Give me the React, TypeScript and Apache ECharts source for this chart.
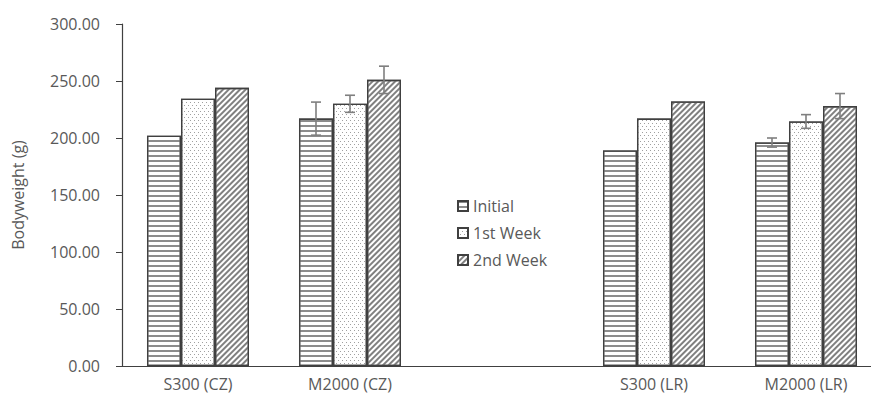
import React, { useEffect, useRef } from "react";
import * as echarts from "echarts";

const categories = ["S300 (CZ)", "M2000 (CZ)", "", "S300 (LR)", "M2000 (LR)"];
const seriesNames = ["Initial", "1st Week", "2nd Week"];
const initialValues = [202, 217, null, 189, 196];
const week1Values = [234.5, 230, null, 217, 214.5];
const week2Values = [244, 251, null, 232, 228];
const initialErr = [null, 14.5, null, null, 4];
const week1Err = [null, 7.5, null, null, 6];
const week2Err = [null, 12, null, null, 11];
const yTicks = [0, 50, 100, 150, 200, 250, 300];

const FONT = "Open Sans";
const TEXT = "#595959";
const AXIS = "#404040";
const BAR_FRAC = 34 / 152;

export default function App() {
  const ref = useRef<HTMLDivElement>(null);
  useEffect(() => {
    if (!ref.current) return;
    const chart = echarts.init(ref.current, null, { renderer: "svg" });
    const values = [initialValues, week1Values, week2Values];
    const errs = [initialErr, week1Err, week2Err];
    const decals: any[] = [
      {
        symbol: "rect",
        color: "#8c8c8c",
        backgroundColor: "#ffffff",
        dashArrayX: [1, 0],
        dashArrayY: [1.4, 2.1],
        rotation: 0,
      },
      {
        symbol: "rect",
        color: "#a0a0a0",
        backgroundColor: "#ffffff",
        dashArrayX: [[1, 3], [0, 2, 1, 1]],
        dashArrayY: [1, 1.8],
        rotation: 0,
      },
      {
        symbol: "rect",
        color: "#808080",
        backgroundColor: "#ffffff",
        dashArrayX: [1, 0],
        dashArrayY: [2, 1.8],
        rotation: -Math.PI / 4,
      },
    ];
    const barSeries = values.map((vals, i) => ({
      type: "bar",
      name: seriesNames[i],
      data: vals,
      barWidth: (BAR_FRAC * 100).toFixed(2) + "%",
      barGap: "0%",
      itemStyle: {
        color: "#ffffff",
        borderColor: AXIS,
        borderWidth: 1.3,
        decal: decals[i],
      },
      emphasis: { disabled: true },
      z: 2,
    }));
    const errData: any[] = [];
    errs.forEach((arr, s) => {
      arr.forEach((e, c) => {
        const v = values[s][c];
        if (e != null && v != null) errData.push([c, v - e, v + e, s]);
      });
    });
    const errSeries = {
      type: "custom",
      name: "err",
      data: errData,
      z: 5,
      silent: true,
      renderItem: (params: any, api: any) => {
        const cat = api.value(0);
        const lo = api.value(1);
        const hi = api.value(2);
        const s = api.value(3);
        const band = api.size([1, 0])[0];
        const off = (s - 1) * band * BAR_FRAC;
        const pLo = api.coord([cat, lo]);
        const pHi = api.coord([cat, hi]);
        const x = pLo[0] + off;
        const cap = 5;
        const style = { stroke: "#7f7f7f", lineWidth: 1.6 };
        return {
          type: "group",
          children: [
            { type: "line", shape: { x1: x, y1: pLo[1], x2: x, y2: pHi[1] }, style },
            { type: "line", shape: { x1: x - cap, y1: pHi[1], x2: x + cap, y2: pHi[1] }, style },
            { type: "line", shape: { x1: x - cap, y1: pLo[1], x2: x + cap, y2: pLo[1] }, style },
          ],
        };
      },
    };
    chart.setOption({
      animation: false,
      textStyle: { fontFamily: FONT },
      grid: { left: 122, right: 0, top: 24, bottom: 31, containLabel: false },
      legend: {
        data: seriesNames,
        orient: "vertical",
        left: 452,
        top: 193,
        itemWidth: 10,
        itemHeight: 10,
        itemGap: 11,
        icon: "rect",
        textStyle: { color: TEXT, fontSize: 16, fontFamily: FONT },
        selectedMode: false,
      },
      xAxis: {
        type: "category",
        data: categories,
        axisTick: { show: false },
        axisLine: { lineStyle: { color: AXIS, width: 1.2 } },
        axisLabel: { color: TEXT, fontSize: 16, fontFamily: FONT, margin: 10, interval: 0 },
      },
      yAxis: {
        type: "value",
        min: yTicks[0],
        max: yTicks[yTicks.length - 1],
        interval: 50,
        name: "Bodyweight (g)",
        nameLocation: "middle",
        nameGap: 96,
        nameTextStyle: { color: TEXT, fontSize: 16, fontFamily: FONT },
        axisLine: { show: true, lineStyle: { color: AXIS, width: 1.2 } },
        axisTick: { show: true, length: 6, lineStyle: { color: AXIS } },
        splitLine: { show: false },
        axisLabel: {
          color: TEXT,
          fontSize: 16,
          fontFamily: FONT,
          margin: 22,
          formatter: (v: number) => v.toFixed(2),
        },
      },
      series: [...barSeries, errSeries],
    });
    return () => chart.dispose();
  }, []);
  return (
    <div
      ref={ref}
      style={{ position: "fixed", left: 0, top: 0, width: 882, height: 397, background: "#fff" }}
    />
  );
}
